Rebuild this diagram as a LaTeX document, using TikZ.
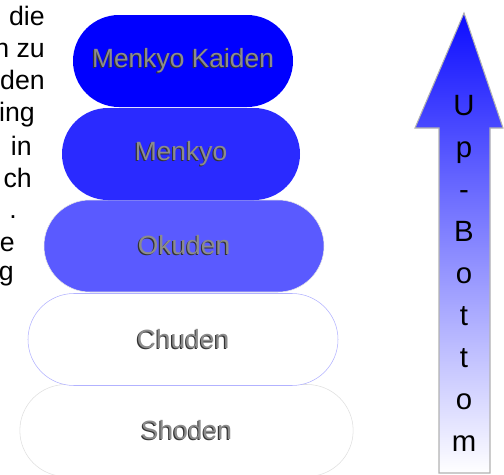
\documentclass[tikz,border=0pt]{standalone}
\usepackage{fontspec}
\setmainfont{Liberation Sans}
\usepackage{tikz}
\usetikzlibrary{shapes.misc}
\definecolor{kaidenblue}{RGB}{0,0,255}
\definecolor{menkyoblue}{RGB}{42,42,255}
\definecolor{okudenblue}{RGB}{90,90,255}
\newcommand{\emboss}[1]{\leavevmode\rlap{\kern-0.8pt\raisebox{-0.8pt}{\textcolor{black!80}{#1}}}\textcolor{black!45}{#1}}
\tikzset{
  belt/.style={rounded rectangle, inner sep=0pt, minimum height=69pt,
    font=\fontsize{19.8}{22}\selectfont},
  sidetext/.style={anchor=base east, inner sep=0pt, font=\fontsize{20}{22}\selectfont},
  upletter/.style={anchor=base, inner sep=0pt, font=\fontsize{22}{24}\selectfont}
}

\begin{document}
\begin{tikzpicture}[x=0.75pt, y=-0.75pt]
\useasboundingbox (0,0) rectangle (504,475);

% cut-off text on the left
\foreach \txt/\xr/\yb [count=\i] in {die/45/25, n zu/45/57, den/45/89, ing/35/121,
    in/32/155, ch/32/187, ./17/218, e/15/251, g/14/280}
  \node[sidetext] (w\i) at (\xr,\yb) {\txt};

% ranks, bottom first
\node[belt, draw=gray!25, fill=white, minimum width=250pt] (shoden) at (186.5,430.5) {\emboss{Shoden}};
\node[belt, draw=blue!30, fill=white, minimum width=232.5pt] (chuden) at (183,339.5) {\emboss{Chuden}};
\node[belt, draw=gray!20, fill=okudenblue, minimum width=210pt] (okuden) at (184,246) {\emboss{Okuden}};
\node[belt, fill=menkyoblue, minimum width=178.5pt] (menkyo) at (181,154) {\emboss{Menkyo}};
\node[belt, fill=kaidenblue, minimum width=165pt] (kaiden) at (183,61) {\emboss{Menkyo Kaiden}};

% arrow
\shade[top color=blue!95, bottom color=white, draw=gray!60, line width=0.8pt]
  (464,13) -- (503,128) -- (490,128) -- (490,473) -- (439,473) -- (439,128)
  -- (415,128) -- cycle;
\foreach \ch [count=\i] in {U,p,-,B,o,t,t,o,m}
  \node[upletter] (c\i) at (464,{115+42*(\i-1)}) {\ch};

\end{tikzpicture}
\end{document}
